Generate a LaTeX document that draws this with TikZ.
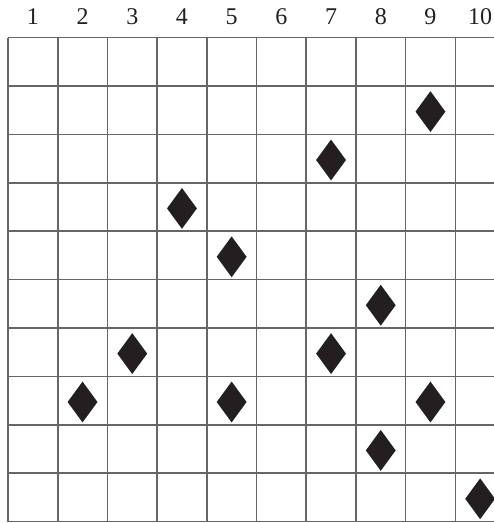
\documentclass[tikz,border=0pt]{standalone}
\usepackage{fontspec}
\setmainfont{Liberation Serif}
\usetikzlibrary{shapes.geometric}
\definecolor{gridgrey}{HTML}{666666}
\definecolor{ink}{HTML}{231F20}
\begin{document}
\begin{tikzpicture}[x=1pt,y=-1pt,
  gridline/.style={draw=gridgrey,line width=1.6pt},
  collabel/.style={font=\fontsize{24}{24}\selectfont,inner sep=0pt,text=ink,anchor=base},
  gem/.style={diamond,fill=ink,draw=none,inner sep=0pt,minimum width=30pt,minimum height=41pt}]
\useasboundingbox (0,0) rectangle (494,523);
\fill[white] (0,0) rectangle (494,523);
\def\cw{49.7}
\def\rh{48.4}
\begin{scope}
\clip (0,0) rectangle (494,523);
\foreach \i in {0,...,10}{
  \draw[gridline] ({8+\i*\cw},37.5) -- ({8+\i*\cw},{37.5+10*\rh});
  \draw[gridline] (8,{37.5+\i*\rh}) -- ({8+10*\cw},{37.5+\i*\rh});
}
\foreach \c in {1,...,10}{
  \node[collabel] (lab\c) at ({8+(\c-0.5)*\cw},24.3) {\c};
}
\foreach \c/\r in {9/2,7/3,4/4,5/5,8/6,3/7,7/7,2/8,5/8,9/8,8/9,10/10}{
  \node[gem] (g\c-\r) at ({8+(\c-0.5)*\cw},{37.5+(\r-0.5)*\rh+1.5}) {};
}
\end{scope}
\end{tikzpicture}
\end{document}
